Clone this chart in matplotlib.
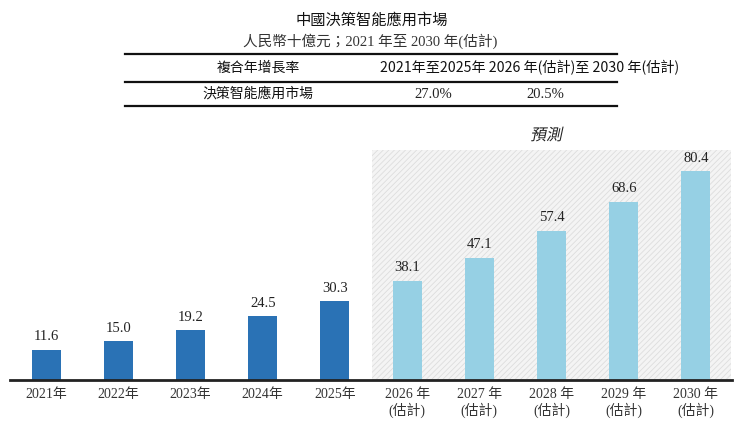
import numpy as np
from matplotlib import pyplot as plt
from matplotlib.lines import Line2D
from matplotlib.patches import Rectangle, PathPatch
from matplotlib.textpath import TextPath
from matplotlib.font_manager import FontProperties
from matplotlib.transforms import Affine2D

plt.rcParams['font.family'] = ['Liberation Serif', 'Noto Sans CJK TC', 'DejaVu Sans']
plt.rcParams['hatch.linewidth'] = 0.6

# 數據
years = ['2021年', '2022年', '2023年', '2024年', '2025年',
         '2026 年\n(估計)', '2027 年\n(估計)', '2028 年\n(估計)', '2029 年\n(估計)', '2030 年\n(估計)']
values = [11.6, 15.0, 19.2, 24.5, 30.3, 38.1, 47.1, 57.4, 68.6, 80.4]
n_hist = 5
cagr_head = ['複合年增長率', '2021年至2025年', '2026 年(估計)至 2030 年(估計)']
cagr_row = ['決策智能應用市場', '27.0%', '20.5%']

W, H = 750, 437
fig = plt.figure(figsize=(W / 100, H / 100), dpi=100)
ax = fig.add_axes([10 / W, (H - 380) / H, 722 / W, 230 / H])

x = np.arange(len(values))
colors = ['#2a72b5'] * n_hist + ['#96d0e4'] * (len(values) - n_hist)

# 預測區域
ax.add_patch(Rectangle((4.52, 0), 4.96, 88.5, facecolor='#f4f4f4', edgecolor='#dddddd',
                       hatch='//////', linewidth=0, zorder=0))
bars = ax.bar(x, values, width=0.4, color=colors, zorder=2)
for xi, v in zip(x, values):
    ax.text(xi, v + 2.5, '%.1f' % v, ha='center', va='bottom', fontsize=10.5, color='#222222')

ax.set_xlim(-0.5, 9.5)
ax.set_ylim(0, 88.5)
ax.set_yticks([])
ax.set_xticks(x)
ax.set_xticklabels(years, fontsize=10, color='#333333', linespacing=1.1)
ax.tick_params(axis='x', length=0, pad=6)
for s in ['top', 'right', 'left']:
    ax.spines[s].set_visible(False)
ax.spines['bottom'].set_linewidth(2)
ax.spines['bottom'].set_color('#222222')
ax.spines['bottom'].set_zorder(3)

# 預測 (斜體)
tp = TextPath((0, 0), '預測', size=11.5, prop=FontProperties(family='Noto Sans CJK TC'))
bb = tp.get_extents()
sc = 100 / 72
tr = (Affine2D().translate(-(bb.x0 + bb.x1) / 2, -(bb.y0 + bb.y1) / 2)
      .skew_deg(12, 0).scale(sc).translate(547, H - 134))
fig.add_artist(PathPatch(tp, transform=tr, facecolor='#222222', edgecolor='none'))

# 標題與表格
fig.text(372 / W, 1 - 20 / H, '中國決策智能應用市場', ha='center', va='center',
         fontsize=11, family=['Noto Sans CJK TC'], color='#111111')
fig.text(370 / W, 1 - 41 / H, '人民幣十億元；2021 年至 2030 年(估計)', ha='center', va='center',
         fontsize=10.5, color='#333333')
for yy in [54, 82, 106]:
    fig.add_artist(Line2D([125 / W, 617 / W], [1 - yy / H, 1 - yy / H], color='#111111', linewidth=1.6))
fig.text(258 / W, 1 - 68 / H, cagr_head[0], ha='center', va='center', fontsize=10,
         family=['Noto Sans CJK TC'], color='#111111')
fig.text(380 / W, 1 - 68 / H, cagr_head[1] + ' ' + cagr_head[2], ha='left', va='center', fontsize=10.2,
         family=['Noto Sans CJK TC'], color='#111111')
fig.text(258 / W, 1 - 94 / H, cagr_row[0], ha='center', va='center', fontsize=10,
         family=['Noto Sans CJK TC'], color='#111111')
fig.text(433 / W, 1 - 94 / H, cagr_row[1], ha='center', va='center', fontsize=10.5, color='#222222')
fig.text(545 / W, 1 - 94 / H, cagr_row[2], ha='center', va='center', fontsize=10.5, color='#222222')

plt.savefig('out.png', dpi=100)
